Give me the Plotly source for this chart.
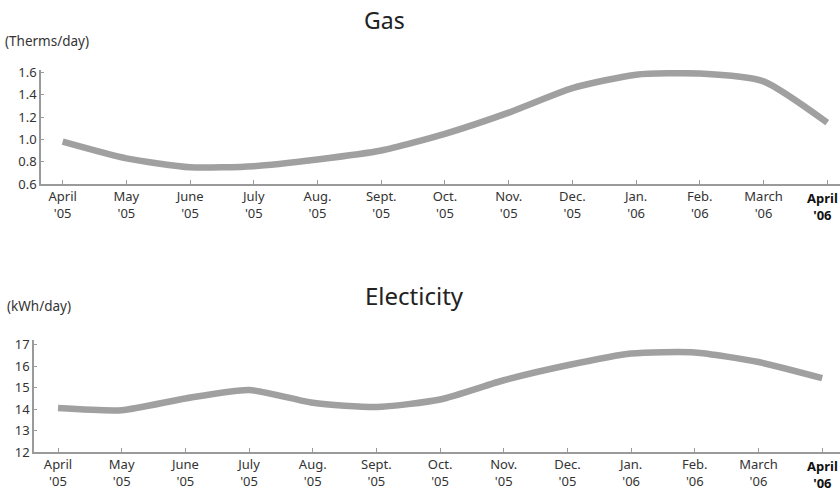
import plotly.graph_objects as go

months = ["April<br>'05", "May<br>'05", "June<br>'05", "July<br>'05", "Aug.<br>'05", "Sept.<br>'05",
          "Oct.<br>'05", "Nov.<br>'05", "Dec.<br>'05", "Jan.<br>'06", "Feb.<br>'06", "March<br>'06",
          "<b>April<br>'06</b>"]
gas = [0.98, 0.83, 0.75, 0.76, 0.82, 0.90, 1.05, 1.24, 1.46, 1.58, 1.59, 1.52, 1.15]
elec = [14.05, 13.95, 14.5, 14.9, 14.3, 14.1, 14.45, 15.35, 16.05, 16.6, 16.65, 16.2, 15.45]
gas_ticks = [0.6, 0.8, 1.0, 1.2, 1.4, 1.6]
gas_ticktext = ["0.6", "0.8", "1.0", "1.2", "1.4", "1.6"]
elec_ticks = [12, 13, 14, 15, 16, 17]

idx = list(range(len(months)))
FONT = "Noto Sans"
LINE = "#a0a0a0"
AX = "#9a9a9a"
TXT = "#333"

fig = go.Figure()
fig.add_trace(go.Scatter(x=idx, y=gas, mode="lines", line=dict(color=LINE, width=6.5, shape="spline", smoothing=0.6),
                         xaxis="x", yaxis="y", showlegend=False, hoverinfo="skip"))
fig.add_trace(go.Scatter(x=idx, y=elec, mode="lines", line=dict(color=LINE, width=6.5, shape="spline", smoothing=0.6),
                         xaxis="x2", yaxis="y2", showlegend=False, hoverinfo="skip"))

# last tick label drawn as right-anchored annotation so it stays inside the page
axis_text = months[:-1] + [""]

common_x = dict(tickmode="array", tickvals=idx, ticktext=axis_text, ticks="inside", ticklen=4, tickcolor=AX,
                showline=True, linecolor=AX, linewidth=1.5, showgrid=False, zeroline=False, automargin=False,
                tickfont=dict(family=FONT, size=13, color=TXT), fixedrange=True)
common_y = dict(tickmode="array", ticks="inside", ticklen=3, tickcolor=AX, automargin=False,
                showline=True, linecolor=AX, linewidth=1.5, showgrid=False, zeroline=False,
                tickfont=dict(family=FONT, size=13, color=TXT), fixedrange=True)

gas_bottom = 1 - 184/495
elec_bottom = 1 - 452/495

fig.update_layout(
    width=840, height=495, margin=dict(l=0, r=0, t=0, b=0, autoexpand=False),
    paper_bgcolor="white", plot_bgcolor="white",
    xaxis=dict(common_x, domain=[41/840, 1], range=[-0.34, 12.2], anchor="y"),
    yaxis=dict(common_y, domain=[gas_bottom, 1-70/495], range=[0.6, 1.622], tickvals=gas_ticks,
               ticktext=gas_ticktext, anchor="x"),
    xaxis2=dict(common_x, domain=[34/840, 1], range=[-0.377, 12.28], anchor="y2"),
    yaxis2=dict(common_y, domain=[elec_bottom, 1-340/495], range=[12, 17.23], tickvals=elec_ticks, anchor="x2"),
    annotations=[
        dict(text="Gas", x=384/840, y=1-20/495, xref="paper", yref="paper", showarrow=False,
             font=dict(family=FONT, size=23, color="#222"), xanchor="center", yanchor="middle"),
        dict(text="(Therms/day)", x=3/840, y=1-41/495, xref="paper", yref="paper", showarrow=False,
             font=dict(family=FONT, size=13.5, color=TXT), xanchor="left", yanchor="middle"),
        dict(text="Electicity", x=414/840, y=1-295/495, xref="paper", yref="paper", showarrow=False,
             font=dict(family=FONT, size=24, color="#222"), xanchor="center", yanchor="middle"),
        dict(text="(kWh/day)", x=5/840, y=1-306/495, xref="paper", yref="paper", showarrow=False,
             font=dict(family=FONT, size=13.5, color=TXT), xanchor="left", yanchor="middle"),
        dict(text=months[-1], x=1, y=gas_bottom, xref="paper", yref="paper", showarrow=False,
             font=dict(family=FONT, size=13, color="#111"), xanchor="right", yanchor="top", yshift=-3,
             align="center"),
        dict(text=months[-1], x=1, y=elec_bottom, xref="paper", yref="paper", showarrow=False,
             font=dict(family=FONT, size=13, color="#111"), xanchor="right", yanchor="top", yshift=-3,
             align="center"),
    ],
)

fig.write_html("out.html", config={"displayModeBar": False},
               post_script="document.body.style.margin='0';document.body.style.overflow='hidden';")
